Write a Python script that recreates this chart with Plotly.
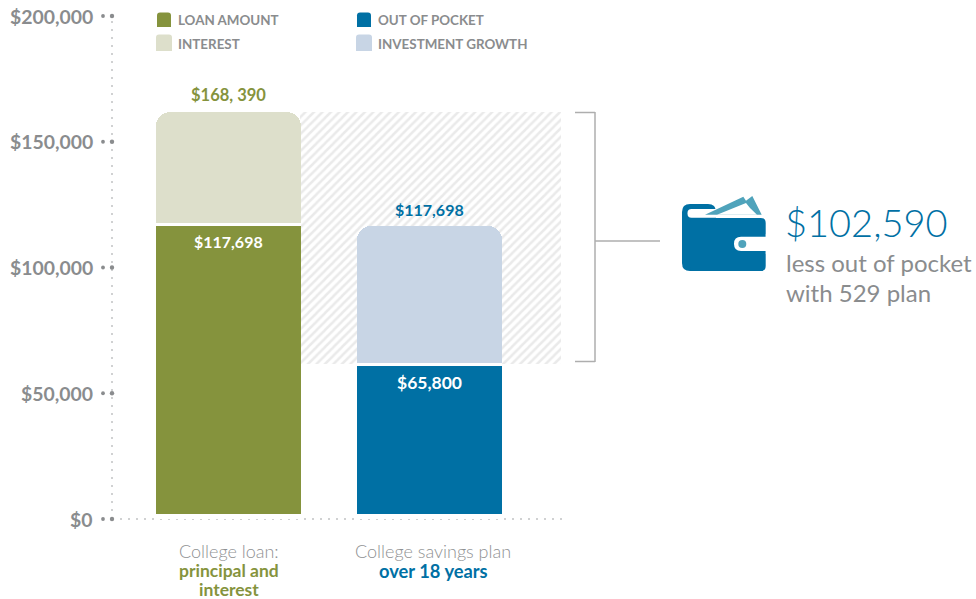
import plotly.graph_objects as go

W, H = 976, 599
L, R, T, B = 113, 563, 16, 519

# ---- data ----
loan_x = [0]
savings_x = [1]
axis_offset = [2000]
loan_height = [114500]
loan_gap = [1200]
interest_height = [44100]
oop_height = [58800]
savings_gap = [1200]
growth_height = [54500]
diff_x = [1.005]
diff_width = [1.3]
diff_base = [61600]
diff_height = [100200]
tick_values = [0, 50000, 100000, 150000, 200000]
tick_labels = ["$0", "$50,000", "$100,000", "$150,000", "$200,000"]

OLIVE, OLIVE_L = "#85933d", "#dddfcb"
BLUE, BLUE_L = "#0070a4", "#c8d5e5"
TEAL = "#4fa3bb"
GREY = "#8a8c8e"
GREY_L = "#8f9193"
NUM = "Lato"
SANS = "Lato"


def px(x):
    return (x - L) / (R - L)


def py(y):
    return (B - y) / (B - T)


def path(points):
    s = ""
    for i, p in enumerate(points):
        s += ("M" if i == 0 else "L") + f"{px(p[0]):.5f},{py(p[1]):.5f}"
    return s + "Z"


def rounded(x0, y0, x1, y1, r):
    c = lambda a, b: f"{px(a):.5f},{py(b):.5f}"
    return (f"M{c(x0 + r, y0)}L{c(x1 - r, y0)}Q{c(x1, y0)} {c(x1, y0 + r)}"
            f"L{c(x1, y1 - r)}Q{c(x1, y1)} {c(x1 - r, y1)}L{c(x0 + r, y1)}"
            f"Q{c(x0, y1)} {c(x0, y1 - r)}L{c(x0, y0 + r)}Q{c(x0, y0)} {c(x0 + r, y0)}Z")


def top_rounded(x0, y0, x1, y1, r):
    c = lambda a, b: f"{px(a):.5f},{py(b):.5f}"
    return (f"M{c(x0, y1)}L{c(x0, y0 + r)}Q{c(x0, y0)} {c(x0 + r, y0)}"
            f"L{c(x1 - r, y0)}Q{c(x1, y0)} {c(x1, y0 + r)}L{c(x1, y1)}Z")


fig = go.Figure()
BW = 145 / 201
WHITE = dict(color="white", line_width=0)
fig.add_bar(x=diff_x, y=diff_height, base=diff_base, width=diff_width,
            marker=dict(color="white", line_width=0,
                        pattern=dict(shape="/", fgcolor="#d6d6d6", bgcolor="white",
                                     size=6, solidity=0.42)))
fig.add_bar(x=loan_x, y=axis_offset, width=BW, marker=WHITE)
fig.add_bar(name="Loan amount", x=loan_x, y=loan_height, width=BW,
            marker=dict(color=OLIVE, line_width=0))
fig.add_bar(x=loan_x, y=loan_gap, width=BW, marker=WHITE)
fig.add_bar(name="Interest", x=loan_x, y=interest_height, width=BW,
            marker=dict(color=OLIVE_L, line_width=0, cornerradius=14))
fig.add_bar(x=savings_x, y=axis_offset, width=BW, marker=WHITE)
fig.add_bar(name="Out of pocket", x=savings_x, y=oop_height, width=BW,
            marker=dict(color=BLUE, line_width=0))
fig.add_bar(x=savings_x, y=savings_gap, width=BW, marker=WHITE)
fig.add_bar(name="Investment growth", x=savings_x, y=growth_height, width=BW,
            marker=dict(color=BLUE_L, line_width=0, cornerradius=14))

shapes = []


def line(x0, y0, x1, y1, color="#aeaeae", width=1.5, dash="solid"):
    shapes.append(dict(type="line", xref="paper", yref="paper", x0=px(x0), y0=py(y0), x1=px(x1), y1=py(y1),
                       line=dict(color=color, width=width, dash=dash), layer="below"))


line(112, 21, 112, 515, color="#d0d1d2", width=2, dash="2px,6px")
line(120, 519, 563, 519, color="#d0d1d2", width=2, dash="2px,6px")
for v in tick_values:
    for xp, r in ((103, 1.9), (112, 2.2)):
        y = B - v / 200000 * (B - T)
        shapes.append(dict(type="circle", xref="paper", yref="paper", x0=px(xp - r), x1=px(xp + r),
                           y0=py(y + r), y1=py(y - r), fillcolor=GREY, line_width=0))
line(575, 112.5, 595, 112.5)
line(595, 112, 595, 362)
line(575, 361.5, 595, 361.5)
line(595, 241, 660, 241)


def fill(p, color):
    shapes.append(dict(type="path", xref="paper", yref="paper", path=p, fillcolor=color, line_width=0))


fill(top_rounded(157, 12.5, 171, 27, 3), OLIVE)
fill(top_rounded(156, 34.5, 172, 51, 3), OLIVE_L)
fill(top_rounded(357, 12.5, 371, 27, 3), BLUE)
fill(top_rounded(356, 34.5, 372, 51, 3), BLUE_L)

# wallet icon
fill(rounded(682, 204, 716, 271, 8), BLUE)
fill(rounded(690, 218, 765.7, 271, 5), BLUE)
fill(rounded(687.5, 209, 725, 217.8, 4), "white")
fill(path([(705, 214.7), (743.3, 196.7), (746, 200.7), (752.3, 196), (761.7, 214.7)]), TEAL)
fill(path([(717, 214.7), (746, 203), (750, 208), (757, 214.7)]), "white")
fill(rounded(734, 236.7, 778, 251, 7), "white")
shapes.append(dict(type="rect", xref="paper", yref="paper", x0=px(765.8), x1=px(780), y0=py(234), y1=py(254),
                   fillcolor="white", line_width=0))
shapes.append(dict(type="circle", xref="paper", yref="paper", x0=px(738.3), x1=px(746.3), y0=py(248), y1=py(240),
                   fillcolor=TEAL, line_width=0))

ann = []


def text(x, y, s, size, color, family=NUM, anchor="center", weight=None):
    ann.append(dict(x=px(x), y=py(y), xref="paper", yref="paper", text=s, showarrow=False, xanchor=anchor,
                    yanchor="middle", font=dict(size=size, color=color, family=family,
                                                weight=weight if weight else "normal"),
                    align="center" if anchor == "center" else "left"))


for v, s in zip(tick_values, tick_labels):
    text(94.5, B - v / 200000 * (B - T), s, 19.4, GREY, anchor="right", weight=700)

text(176, 20, "LOAN AMOUNT", 13.4, GREY, anchor="left", weight=700)
text(176, 44, "INTEREST", 13.4, GREY, anchor="left", weight=700)
text(376, 20, "OUT OF POCKET", 13.4, GREY, anchor="left", weight=700)
text(376, 44, "INVESTMENT GROWTH", 13.4, GREY, anchor="left", weight=700)

text(228.5, 95, "$168, 390", 16.5, OLIVE, weight=700)
text(228.5, 241, "$117,698", 16, "white", weight=700)
text(429.5, 209, "$117,698", 16, BLUE, weight=700)
text(429.5, 382, "$65,800", 17.5, "white", weight=700)

text(228.5, 551, "College loan:", 18, GREY_L, family=SANS, weight=300)
text(228.5, 570, "principal and", 17.5, OLIVE, family=SANS, weight=700)
text(228.5, 589, "interest", 17.5, OLIVE, family=SANS, weight=700)
text(433, 551, "College savings plan", 18, GREY_L, family=SANS, weight=300)
text(433, 570.5, "over 18 years", 18.3, BLUE, family=SANS, weight=700)

text(783, 222, "$102,590", 38, BLUE, family=SANS, anchor="left", weight=300)
text(783.5, 262, "less out of pocket", 24, GREY, family=SANS, anchor="left")
text(783.5, 292, "with 529 plan", 24, GREY, family=SANS, anchor="left")

fig.update_layout(
    width=W, height=H, margin=dict(l=L, r=W - R, t=T, b=H - B, pad=0),
    barmode="stack", showlegend=False,
    plot_bgcolor="white", paper_bgcolor="white",
    xaxis=dict(range=[(L - 228.5) / 201, (R - 228.5) / 201], visible=False, fixedrange=True),
    yaxis=dict(range=[0, 200000], visible=False, fixedrange=True),
    shapes=shapes, annotations=ann,
)
fig.update_traces(hoverinfo="skip", opacity=1)
fig.write_html("out.html", config=dict(displayModeBar=False),
               post_script="document.body.style.margin='0';document.documentElement.style.overflow='hidden';")
